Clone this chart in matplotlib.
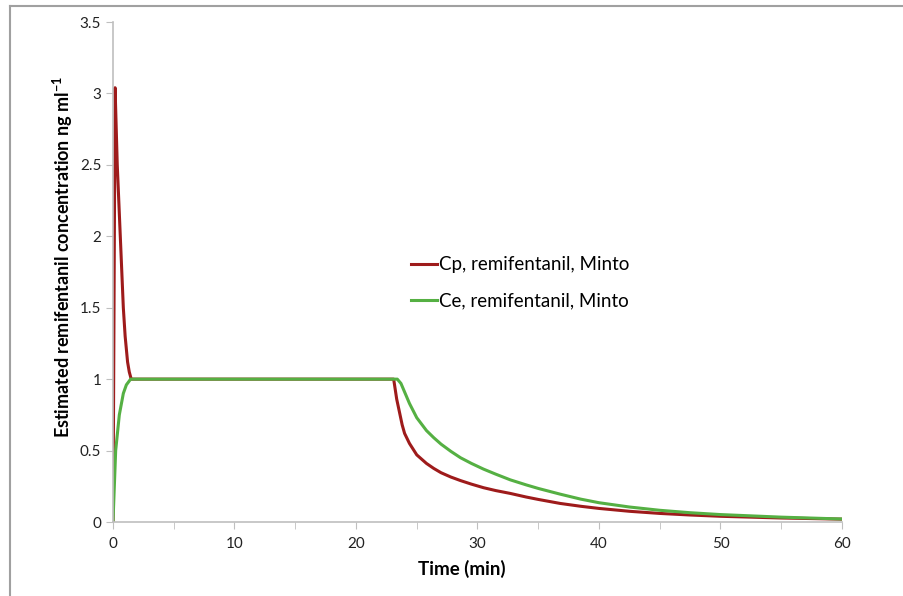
import matplotlib
matplotlib.use("Agg")
import matplotlib.pyplot as plt
from matplotlib.lines import Line2D
from matplotlib.ticker import MultipleLocator

plt.rcParams['font.family'] = ['Lato', 'DejaVu Sans']
plt.rcParams['mathtext.default'] = 'regular'

# Data
cp_time = [0, 0.17, 0.35, 0.6, 0.85, 1.0, 1.2, 1.34, 1.5, 23.1, 23.35, 23.6, 23.8, 24.0,
           24.4, 25.0, 25.8, 26.4, 27.0, 27.8, 28.6, 29.5, 30.5, 31.5, 32.7, 34, 35, 36.8,
           38.5, 40, 42.5, 45, 47.5, 50, 55, 60]
cp_conc = [0, 3.04, 2.5, 2.0, 1.5, 1.3, 1.12, 1.05, 1.0, 1.0, 0.86, 0.76, 0.68, 0.62,
           0.55, 0.47, 0.41, 0.375, 0.345, 0.315, 0.29, 0.265, 0.24, 0.22, 0.20, 0.175, 0.158, 0.13,
           0.11, 0.095, 0.075, 0.06, 0.049, 0.04, 0.028, 0.02]

ce_time = [0, 0.22, 0.52, 0.85, 1.1, 1.45, 23.4, 23.7, 24.0, 24.4, 25.0, 25.8, 26.4, 27.0,
           27.8, 28.6, 29.5, 30.5, 31.5, 32.7, 34, 35, 36.8, 38.5, 40, 42.5, 45, 47.5, 50, 55, 60]
ce_conc = [0, 0.5, 0.75, 0.9, 0.96, 1.0, 1.0, 0.97, 0.91, 0.83, 0.73, 0.64, 0.59, 0.545,
           0.495, 0.45, 0.41, 0.37, 0.335, 0.295, 0.26, 0.235, 0.195, 0.16, 0.135, 0.105, 0.082, 0.065, 0.052, 0.034, 0.021]

series_labels = ["Cp, remifentanil, Minto", "Ce, remifentanil, Minto"]
x_ticks = [0, 10, 20, 30, 40, 50, 60]
y_ticks = [0, 0.5, 1, 1.5, 2, 2.5, 3, 3.5]
y_tick_labels = ["0", "0.5", "1", "1.5", "2", "2.5", "3", "3.5"]

fig = plt.figure(figsize=(9.04, 5.96), dpi=100)
ax = fig.add_axes([113/904, 1 - 522/596, (842 - 113)/904, (522 - 22)/596])

ax.plot(cp_time, cp_conc, color='#9E1B1B', lw=2.2, label=series_labels[0], solid_joinstyle='round')
ax.plot(ce_time, ce_conc, color='#55B043', lw=2.2, label=series_labels[1], solid_joinstyle='round')

ax.set_xlim(0, 60)
ax.set_ylim(0, 3.5)
ax.set_xticks(x_ticks)
ax.xaxis.set_minor_locator(MultipleLocator(5))
ax.set_yticks(y_ticks)
ax.set_yticklabels(y_tick_labels)

for s in ['top', 'right']:
    ax.spines[s].set_visible(False)
for s in ['left', 'bottom']:
    ax.spines[s].set_color('#BFBFBF')
    ax.spines[s].set_linewidth(1.2)

ax.tick_params(axis='both', which='both', direction='out', color='#BFBFBF', labelsize=11, labelcolor='#222222')
ax.tick_params(axis='both', which='major', length=5)
ax.tick_params(axis='x', which='minor', length=5)
ax.tick_params(axis='x', pad=6)

ax.set_xlabel("Time (min)", fontsize=13.5, fontweight='bold')
ax.xaxis.set_label_coords((462 - 113) / 729, -0.075)
ax.set_ylabel("Estimated remifentanil concentration ng ml$^{-1}$", fontsize=13, fontweight='bold')
ax.yaxis.set_label_coords(-(113 - 75) / 729, (522 - 257) / 500)

leg = ax.legend(loc='upper left', bbox_to_anchor=(0.385, 0.565), frameon=False, fontsize=13.5,
                handlelength=1.4, handletextpad=0.1, labelspacing=1.0)

# figure border (left and top visible)
fig.add_artist(Line2D([10/904, 10/904], [0, 1 - 6/596], color='#A0A0A0', lw=1.5))
fig.add_artist(Line2D([10/904, 1], [1 - 6/596, 1 - 6/596], color='#A0A0A0', lw=1.5))

fig.savefig("out.png", dpi=100)
